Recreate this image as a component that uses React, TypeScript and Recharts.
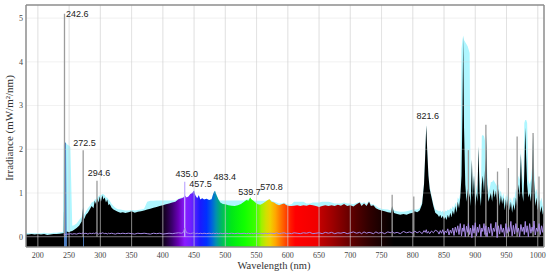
import React from 'react';
import { ComposedChart, Area, Line, XAxis, YAxis, ReferenceLine, ReferenceDot } from 'recharts';

// Wavelength samples (nm)
const wavelengths = [
  181, 185, 190, 195, 200, 205, 210, 215, 220, 225,
  230, 235, 240, 241.5, 242.6, 245, 246, 250, 252, 255,
  258, 262, 266, 270, 272.5, 274, 277, 280, 283, 286,
  289, 291, 293, 295, 297, 299, 301, 303, 305, 307,
  309, 311, 313, 315, 318, 321, 324, 328, 332, 336,
  340, 345, 350, 355, 360, 365, 370, 375, 380, 385,
  390, 395, 400, 405, 410, 415, 420, 425, 430, 433,
  435, 438, 441, 444, 447, 450, 452, 455, 457.5, 460,
  463, 466, 470, 474, 478, 481, 483.4, 486, 489, 492,
  496, 500, 505, 510, 515, 520, 525, 530, 534, 537,
  539.7, 542, 545, 548, 552, 556, 560, 564, 568, 570.8,
  574, 578, 582, 586, 590, 594, 598, 602, 606, 610,
  615, 620, 625, 630, 635, 640, 645, 650, 655, 660,
  665, 670, 675, 680, 685, 690, 695, 700, 705, 710,
  715, 718, 722, 726, 730, 733, 737, 741, 745, 750,
  755, 760, 765, 767, 770, 775, 780, 785, 790, 795,
  800, 803, 807, 811, 815, 818, 820, 821.6, 823, 825,
  827, 830, 833, 836,
  840, 842, 844, 846, 848, 850, 852, 854, 856, 858,
  860, 862, 864, 866, 868, 870, 872, 874, 876, 878,
  879.5, 880.7, 882, 884, 886, 888, 889, 891, 892.5, 894.6,
  896, 898, 900, 902, 903.5, 905, 907, 909, 910.5, 912,
  914, 915.5, 917, 917.5, 919, 921, 923, 925, 927, 929,
  931, 933, 935, 937, 939, 941, 943, 945, 947, 949,
  951, 953, 955, 957, 959, 961, 963, 965, 967, 969,
  971, 973, 975, 977, 978.5, 980, 981.5, 983, 985, 987,
  989, 991, 992.5, 994, 996, 998, 1000, 1002, 1004, 1006,
  1008, 1009.5,
];

// Measured spectrum (mW/m²/nm)
const spectrum = [
  0.05, 0.05, 0.06, 0.05, 0.06, 0.05, 0.06, 0.04, 0.05, 0.06,
  0.06, 0.07, 0.08, 0.08, 2.15, 2.15, 0.12, 0.1, 0.12, 0.13,
  0.16, 0.2, 0.25, 0.35, 0.68, 0.4, 0.5, 0.55, 0.62, 0.7,
  0.65, 0.82, 0.75, 0.88, 0.78, 0.92, 0.8, 0.95, 0.85, 0.9,
  0.78, 0.85, 0.72, 0.75, 0.66, 0.62, 0.6, 0.57, 0.55, 0.56,
  0.54, 0.56, 0.58, 0.55, 0.57, 0.58, 0.6, 0.62, 0.64, 0.66,
  0.68, 0.7, 0.72, 0.74, 0.76, 0.78, 0.8, 0.86, 0.88, 0.9,
  0.95, 0.9, 0.92, 0.98, 1.0, 1.06, 0.95, 0.88, 0.95, 0.85,
  0.88, 0.85, 0.87, 0.84, 0.86, 1.0, 1.05, 0.95, 0.85, 0.78,
  0.75, 0.74, 0.72, 0.71, 0.7, 0.72, 0.75, 0.8, 0.84, 0.82,
  0.9, 0.85, 0.82, 0.78, 0.74, 0.73, 0.76, 0.8, 0.84, 0.86,
  0.8, 0.78, 0.74, 0.72, 0.74, 0.76, 0.72, 0.7, 0.7, 0.71,
  0.72, 0.7, 0.72, 0.71, 0.73, 0.72, 0.7, 0.68, 0.7, 0.72,
  0.7, 0.72, 0.7, 0.73, 0.71, 0.75, 0.7, 0.72, 0.69, 0.74,
  0.78, 0.7, 0.76, 0.7, 0.8, 0.7, 0.72, 0.65, 0.62, 0.6,
  0.58, 0.56, 0.55, 0.7, 0.54, 0.52, 0.5, 0.52, 0.5, 0.53,
  0.55, 0.58, 0.56, 0.6, 0.75, 1.2, 1.9, 2.55, 2.0, 1.4,
  1.1, 0.9, 0.7, 0.55,
  0.5, 0.45, 0.5, 0.42, 0.48, 0.4, 0.45, 0.38, 0.5, 0.42,
  0.55, 0.45, 0.6, 0.5, 0.7, 0.55, 0.8, 0.65, 0.9, 1.4,
  2.8, 4.58, 2.5, 1.2, 0.8, 1.1, 0.8, 1.0, 0.7, 1.76,
  0.9, 1.4, 0.7, 1.0, 0.8, 2.06, 1.0, 0.7, 1.2, 1.4,
  1.0, 1.5, 1.8, 2.35, 1.2, 0.8, 0.9, 1.0, 0.8, 1.1,
  0.9, 1.05, 0.8, 1.1, 0.7, 0.95, 0.75, 0.9, 0.6, 0.85,
  0.7, 0.95, 0.6, 0.8, 0.55, 0.75, 0.6, 0.9, 0.7, 1.2,
  0.9, 1.9, 1.0, 0.8, 1.5, 2.49, 1.8, 1.2, 0.9, 1.0,
  0.8, 1.4, 2.33, 1.3, 0.7, 0.9, 0.6, 0.85, 0.55, 0.7,
  0.5, 0.6,
];

// Upper envelope (light cyan)
const envelope = [
  0.09, 0.08, 0.08, 0.08, 0.08, 0.08, 0.09, 0.08, 0.08, 0.09,
  0.09, 0.1, 0.11, 2.1, 2.18, 2.15, 2.12, 2.08, 2.05, 0.25,
  0.26, 0.3, 0.38, 0.45, 0.7, 0.5, 0.58, 0.65, 0.7, 0.78,
  0.8, 0.85, 0.86, 0.9, 0.92, 0.95, 0.95, 0.98, 0.97, 0.95,
  0.9, 0.9, 0.85, 0.82, 0.75, 0.7, 0.66, 0.63, 0.62, 0.61,
  0.6, 0.6, 0.61, 0.6, 0.61, 0.62, 0.64, 0.8, 0.82, 0.82,
  0.83, 0.83, 0.83, 0.83, 0.83, 0.83, 0.83, 0.87, 0.9, 0.9,
  0.95, 0.9, 0.92, 0.98, 1.0, 1.06, 0.95, 0.88, 0.95, 0.85,
  0.88, 0.85, 0.87, 0.84, 0.86, 1.0, 1.05, 0.95, 0.85, 0.83,
  0.83, 0.83, 0.83, 0.83, 0.83, 0.83, 0.83, 0.83, 0.85, 0.85,
  0.9, 0.85, 0.83, 0.82, 0.82, 0.82, 0.82, 0.82, 0.84, 0.86,
  0.82, 0.8, 0.78, 0.76, 0.76, 0.78, 0.75, 0.73, 0.74, 0.8,
  0.8, 0.8, 0.8, 0.76, 0.76, 0.78, 0.78, 0.78, 0.8, 0.8,
  0.8, 0.78, 0.76, 0.76, 0.76, 0.78, 0.76, 0.76, 0.74, 0.77,
  0.8, 0.76, 0.79, 0.75, 0.82, 0.74, 0.74, 0.7, 0.66, 0.64,
  0.63, 0.62, 0.6, 0.7, 0.6, 0.58, 0.57, 0.57, 0.58, 0.6,
  0.62, 0.62, 0.62, 0.65, 0.8, 1.25, 1.95, 2.58, 2.05, 1.45,
  1.15, 0.95, 0.75, 0.62,
  0.6, 0.58, 0.6, 0.56, 0.6, 0.55, 0.6, 0.58, 0.62, 0.6,
  0.65, 0.62, 0.7, 0.65, 0.78, 0.7, 0.9, 0.85, 1.0, 4.3,
  4.5, 4.6, 4.5, 4.45, 4.4, 4.35, 4.3, 4.2, 1.1, 1.8,
  1.1, 1.5, 0.9, 1.2, 1.0, 2.1, 1.3, 1.0, 2.3, 2.33,
  2.3, 2.2, 1.9, 2.4, 1.5, 1.0, 1.1, 1.25, 1.25, 1.3,
  1.25, 1.2, 1.15, 1.2, 1.0, 1.05, 0.9, 1.0, 0.8, 0.95,
  0.9, 1.05, 0.8, 0.9, 0.75, 0.9, 0.9, 1.1, 1.0, 1.4,
  1.3, 2.0, 1.4, 1.2, 2.6, 2.67, 2.67, 2.6, 1.3, 1.2,
  1.3, 1.6, 2.36, 1.6, 1.0, 1.1, 0.9, 1.0, 0.8, 0.9,
  0.7, 0.7,
];

// Dark / background trace (purple)
const baseline = [
  null, null, null, null, null, null, null, null, null, null,
  null, null, null, 0.05, 0.05, 0.05, 0.06, 0.06, 0.07, 0.06,
  0.07, 0.06, 0.08, 0.07, 0.09, 0.07, 0.08, 0.06, 0.08, 0.07,
  0.08, 0.07, 0.09, 0.08, 0.06, 0.08, 0.07, 0.09, 0.08, 0.07,
  0.08, 0.06, 0.08, 0.07, 0.08, 0.07, 0.06, 0.08, 0.07, 0.08,
  0.07, 0.08, 0.07, 0.06, 0.08, 0.07, 0.08, 0.07, 0.06, 0.08,
  0.07, 0.08, 0.06, 0.07, 0.08, 0.07, 0.08, 0.09, 0.08, 0.1,
  0.2, 0.09, 0.08, 0.07, 0.08, 0.09, 0.07, 0.08, 0.07, 0.08,
  0.07, 0.08, 0.07, 0.08, 0.07, 0.08, 0.07, 0.08, 0.07, 0.08,
  0.07, 0.08, 0.07, 0.08, 0.07, 0.08, 0.07, 0.08, 0.07, 0.08,
  0.07, 0.08, 0.07, 0.08, 0.07, 0.08, 0.07, 0.08, 0.07, 0.08,
  0.08, 0.07, 0.09, 0.07, 0.08, 0.09, 0.07, 0.08, 0.07, 0.09,
  0.08, 0.07, 0.09, 0.08, 0.1, 0.07, 0.08, 0.09, 0.07, 0.1,
  0.08, 0.1, 0.07, 0.09, 0.08, 0.1, 0.07, 0.09, 0.11, 0.08,
  0.1, 0.07, 0.11, 0.08, 0.1, 0.09, 0.07, 0.11, 0.08, 0.1,
  0.07, 0.11, 0.09, 0.12, 0.08, 0.1, 0.07, 0.12, 0.09, 0.11,
  0.08, 0.13, 0.09, 0.12, 0.07, 0.14, 0.1, 0.16, 0.08, 0.12,
  0.07, 0.13, 0.09, 0.15,
  0.12, 0.06, 0.14, 0.08, 0.16, 0.05, 0.13, 0.09, 0.18, 0.04,
  0.15, 0.08, 0.2, 0.03, 0.22, 0.1, 0.25, 0.05, 0.3, 0.02,
  0.2, 0.12, 0.28, 0.0, 0.24, 0.1, 0.3, 0.05, 0.2, -0.02,
  0.26, 0.08, 0.32, 0.02, 0.22, 0.1, 0.28, 0.0, 0.2, 0.12,
  0.3, 0.05, 0.25, 0.1, 0.0, 0.22, 0.08, 0.3, 0.02, 0.2,
  0.12, 0.33, -0.02, 0.25, 0.06, 0.28, 0.1, 0.2, 0.0, 0.3,
  0.08, 0.22, 0.12, 0.35, 0.02, 0.26, 0.06, 0.3, 0.1, 0.2,
  0.0, 0.28, 0.12, 0.22, 0.05, 0.35, 0.1, 0.25, 0.0, 0.3,
  0.08, 0.22, 0.12, 0.36, 0.04, 0.2, 0.12, 0.3, 0.05, 0.25,
  0.1, 0.3,
];

const xTicks = [200, 250, 300, 350, 400, 450, 500, 550, 600, 650, 700, 750, 800, 850, 900, 950, 1000];
const yTicks = [0, 1, 2, 3, 4, 5];

// Emission lines (grey verticals)
const lineWavelengths = [242.6, 272.5, 294.6, 435.0, 767, 801.6, 889, 917, 935.6, 953, 967, 992.5, 1002];
const lineHeights = [5.1, 1.98, 1.28, 1.26, 0.96, 0.92, 1.98, 2.56, 1.49, 1.57, 2.29, 2.37, 1.38];

// Peak annotations
const labelTexts = ['242.6', '272.5', '294.6', '435.0', '457.5', '483.4', '539.7', '570.8', '821.6'];
const labelWavelengths = [263.1, 274.8, 297.7, 438.3, 460.3, 499, 538.8, 574, 824.1];
const labelLevels = [5.09, 2.14, 1.46, 1.45, 1.21, 1.36, 1.03, 1.14, 2.77];

// Colour of the spectrum fill by wavelength
const stopWavelengths = [181, 241.4, 241.6, 245.8, 246, 271.8, 272, 273, 273.2, 395, 405, 415, 425, 435, 445, 452, 460, 470, 478, 485, 492, 500, 510, 530, 550, 558, 565, 572, 580, 588, 596, 605, 612, 648, 652, 670, 690, 710, 730, 750, 770, 1009.5];
const stopColors = ['#000000', '#000000', '#4f80c4', '#4f80c4', '#000000', '#000000', '#4f80c4', '#4f80c4', '#000000', '#000000', '#1c0030', '#3d0070', '#6a00b8', '#8a1cff', '#7020ff', '#4a20ff', '#1a1aff', '#0030ff', '#0060e0', '#0090b0', '#00b070', '#00d040', '#00e818', '#10ff00', '#40ff00', '#a0f000', '#d0e000', '#f0d000', '#ffa800', '#ff7800', '#ff4a00', '#ff1800', '#ff0000', '#f00000', '#c00000', '#a00000', '#780000', '#500000', '#300000', '#180000', '#000000', '#000000'];

const data = wavelengths.map((wl, i) => ({
  wl,
  spectrum: spectrum[i],
  envelope: envelope[i],
  baseline: baseline[i],
}));

const wMin = wavelengths[0];
const wMax = wavelengths[wavelengths.length - 1];

const serif = '"Liberation Serif", "DejaVu Serif", serif';
const sans = '"Liberation Sans", Arial, sans-serif';

const YTitle = (props: any) => {
  const vb = props.viewBox;
  const x = vb.x + 13;
  const y = vb.y + vb.height / 2 + 2;
  return (
    <text x={x} y={y} transform={`rotate(-90 ${x} ${y})`} textAnchor="middle" fontFamily={serif} fontSize={11} fill="#333">
      Irradiance (mW/m²/nm)
    </text>
  );
};

const XTitle = (props: any) => {
  const vb = props.viewBox;
  return (
    <text x={vb.x + vb.width / 2 - 11} y={vb.y + 21.5} textAnchor="middle" fontFamily={serif} fontSize={10.5} fill="#333">
      Wavelength (nm)
    </text>
  );
};

export default function App() {
  return (
    <div style={{ position: 'absolute', left: 0, top: 0, background: '#fff' }}>
      <ComposedChart width={550} height={274} data={data} margin={{ top: 5, right: 6, left: 0, bottom: 0 }}>
        <defs>
          <linearGradient id="spectral" x1="0" y1="0" x2="1" y2="0">
            {stopWavelengths.map((w, i) => (
              <stop key={i} offset={(w - wMin) / (wMax - wMin)} stopColor={stopColors[i]} />
            ))}
          </linearGradient>
        </defs>
        <XAxis
          dataKey="wl"
          type="number"
          domain={[181, 1010]}
          allowDataOverflow
          ticks={xTicks}
          height={27}
          tickLine={false}
          tickSize={3}
          tickMargin={2}
          axisLine={{ stroke: '#8c8c8c', strokeWidth: 1.5 }}
          tick={{ fontFamily: serif, fontSize: 8, fill: '#444' }}
          label={{ content: XTitle }}
        />
        <YAxis
          type="number"
          domain={[-0.235, 5.3]}
          allowDataOverflow
          ticks={yTicks}
          width={26}
          tickLine={false}
          tickSize={2}
          tickMargin={1}
          axisLine={{ stroke: '#8c8c8c', strokeWidth: 1.5 }}
          tick={{ fontFamily: serif, fontSize: 8, fill: '#444' }}
          label={{ content: YTitle }}
        />
        {xTicks.map((t) => (
          <ReferenceLine key={'gx' + t} x={t} stroke="#d0d0d0" strokeOpacity={0.3} strokeWidth={1} />
        ))}
        {yTicks.slice(1).map((t) => (
          <ReferenceLine key={'gy' + t} y={t} stroke="#d0d0d0" strokeOpacity={0.3} strokeWidth={1} />
        ))}
        <Area
          dataKey="envelope"
          type="linear"
          baseValue="dataMin"
          fill="#aef6ff"
          fillOpacity={1}
          stroke="none"
          isAnimationActive={false}
        />
        <Area
          dataKey="spectrum"
          type="linear"
          baseValue="dataMin"
          fill="url(#spectral)"
          fillOpacity={1}
          stroke="none"
          isAnimationActive={false}
        />
        {xTicks.map((t) => (
          <ReferenceLine key={'ox' + t} x={t} stroke="#d0d0d0" strokeOpacity={0.45} strokeWidth={1} />
        ))}
        <ReferenceLine y={0} stroke="#e8e0f0" strokeOpacity={0.5} strokeWidth={1} />
        {lineWavelengths.map((w, i) => (
          <ReferenceLine
            key={'pl' + i}
            segment={[{ x: w, y: 0 }, { x: w, y: lineHeights[i] }]}
            stroke={w > 400 && w < 700 ? '#c4b0ff' : '#9c9c9c'}
            strokeWidth={1.3}
          />
        ))}
        <Line
          dataKey="baseline"
          type="linear"
          stroke="#a88ae6"
          strokeWidth={1}
          dot={false}
          connectNulls={false}
          isAnimationActive={false}
        />
        <ReferenceLine y={5.3} stroke="#8c8c8c" strokeWidth={1.5} />
        <ReferenceLine x={1010} stroke="#8c8c8c" strokeWidth={1.5} />
        {labelTexts.map((txt, i) => (
          <ReferenceDot
            key={'lb' + i}
            x={labelWavelengths[i]}
            y={labelLevels[i]}
            r={0}
            fill="none"
            stroke="none"
            label={{ value: txt, position: 'center', fontFamily: sans, fontSize: 9, fill: '#222' }}
          />
        ))}
      </ComposedChart>
    </div>
  );
}
